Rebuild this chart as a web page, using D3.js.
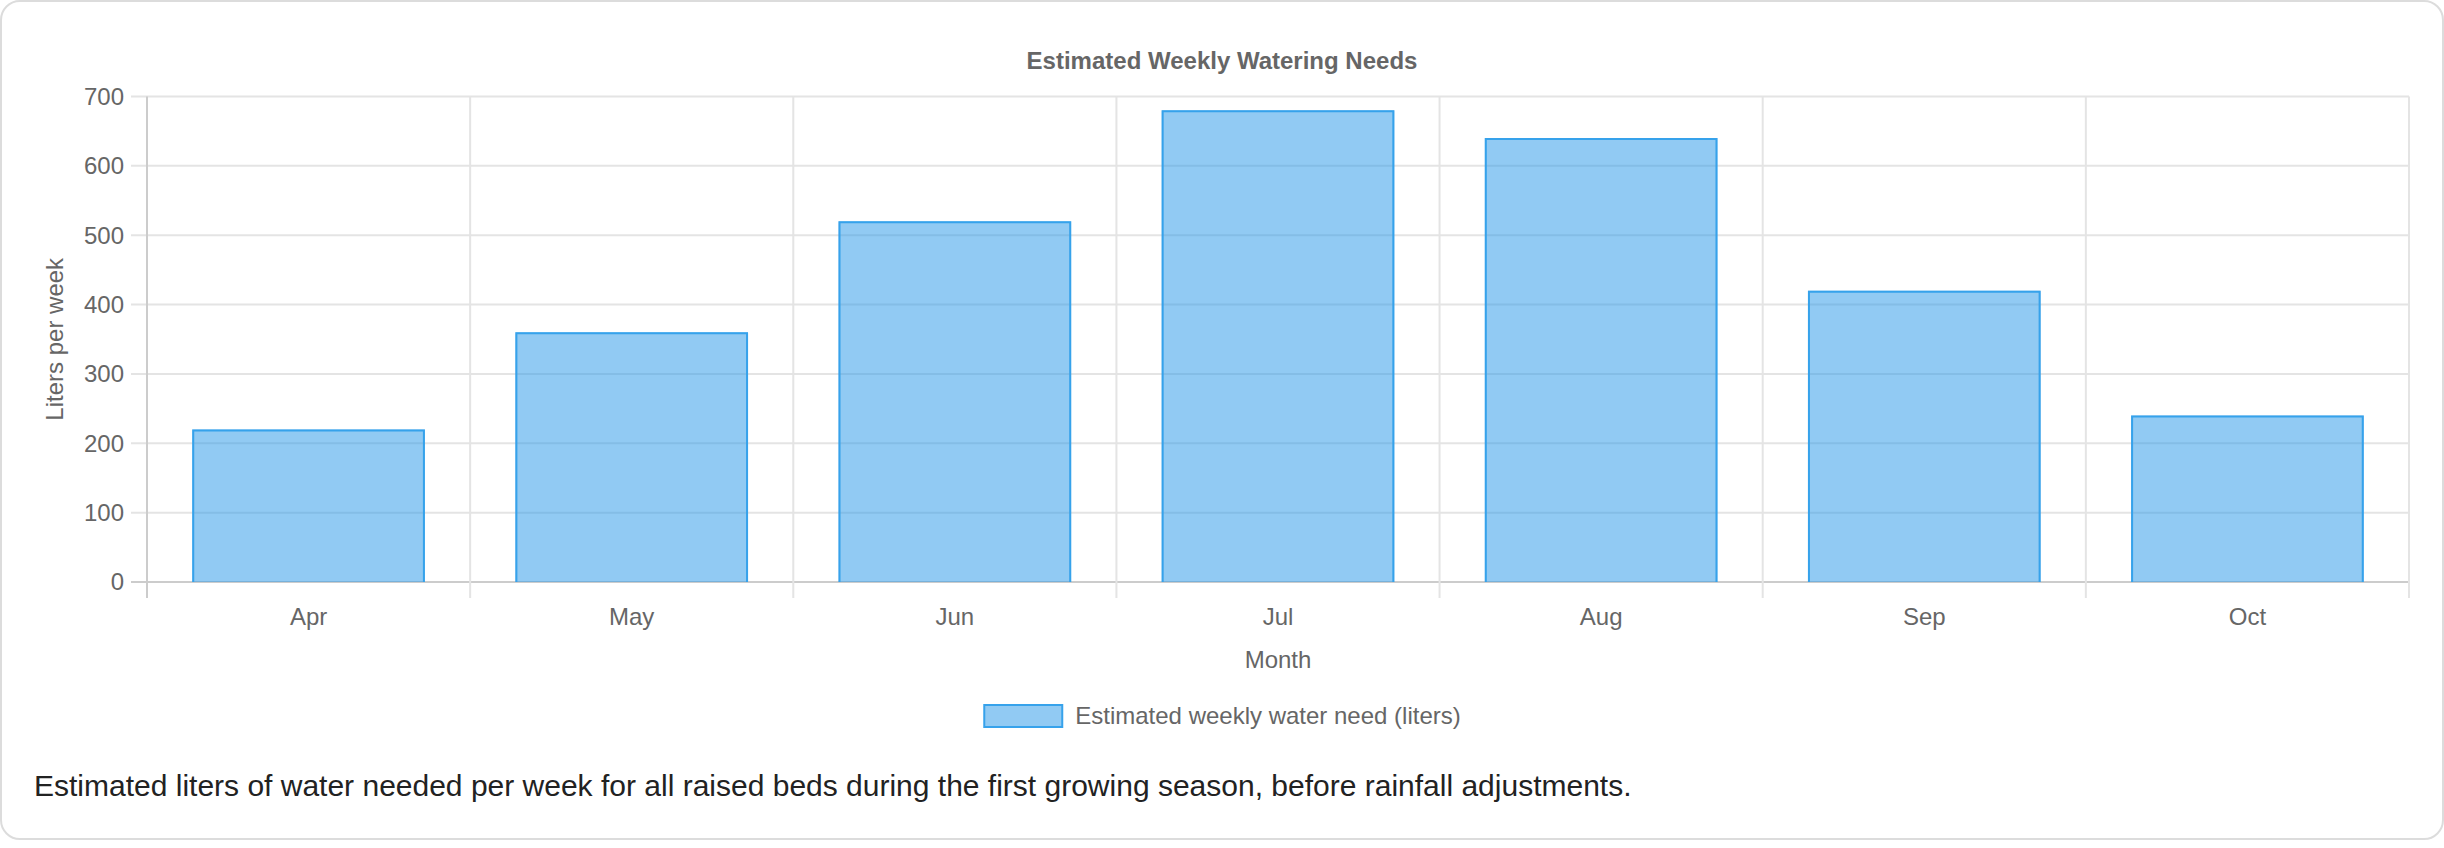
<!DOCTYPE html>
<html>
<head>
<meta charset="utf-8">
<script src="https://cdn.jsdelivr.net/npm/d3@7"></script>
<style>
  html, body { margin: 0; padding: 0; background: #fff; }
  body { width: 2444px; height: 848px; overflow: hidden; font-family: "Liberation Sans", Arial, Helvetica, sans-serif; }
  .card { position: absolute; left: 0; top: 0; width: 2440px; height: 836px; border: 2px solid #dcdcdc; border-radius: 20px; background: #fff; }
  .caption { position: absolute; left: 34px; top: 769px; font-size: 30px; color: #222; white-space: nowrap; }
  svg { position: absolute; left: 0; top: 0; }
</style>
</head>
<body>
<div class="card"></div>
<svg id="chart" width="2444" height="760"></svg>
<div class="caption">Estimated liters of water needed per week for all raised beds during the first growing season, before rainfall adjustments.</div>
<script>
const months = ["Apr", "May", "Jun", "Jul", "Aug", "Sep", "Oct"];
const waterLiters = [220, 360, 520, 680, 640, 420, 240];
const yTicks = [0, 100, 200, 300, 400, 500, 600, 700];
const chartTitle = "Estimated Weekly Watering Needs";
const seriesLabel = "Estimated weekly water need (liters)";
const xTitle = "Month";
const yTitle = "Liters per week";

const plotL = 147, plotR = 2409, plotT = 96.5, plotB = 582;
const canvasMid = 1222;
const svg = d3.select("#chart");
const font = '"Liberation Sans", Arial, Helvetica, sans-serif';

const x = d3.scaleBand().domain(months).range([plotL, plotR]).paddingInner(0).paddingOuter(0);
const y = d3.scaleLinear().domain([0, 700]).range([plotB, plotT]);

// horizontal grid
svg.append("g").selectAll("line").data(yTicks).join("line")
  .attr("x1", plotL - 16).attr("x2", plotR)
  .attr("y1", d => y(d)).attr("y2", d => y(d))
  .attr("stroke", d => d === 0 ? "#cccccc" : "#e4e4e4").attr("stroke-width", 2);
// vertical grid (category boundaries)
const bounds = months.map(m => x(m)).concat([plotR]);
svg.append("g").selectAll("line").data(bounds).join("line")
  .attr("x1", d => d).attr("x2", d => d)
  .attr("y1", plotT).attr("y2", plotB + 16)
  .attr("stroke", (d, i) => i === 0 ? "#cccccc" : "#e4e4e4").attr("stroke-width", 2);

// y tick labels
svg.append("g").selectAll("text").data(yTicks).join("text")
  .attr("x", plotL - 23).attr("y", d => y(d)).attr("dy", "0.35em")
  .attr("text-anchor", "end").attr("font-family", font).attr("font-size", 24).attr("fill", "#666")
  .text(d => d);

// x tick labels
svg.append("g").selectAll("text").data(months).join("text")
  .attr("x", d => x(d) + x.bandwidth() / 2).attr("y", 617).attr("dy", "0.35em")
  .attr("text-anchor", "middle").attr("font-family", font).attr("font-size", 24).attr("fill", "#666")
  .text(d => d);

// bars (border drawn inside the bar, no bottom border)
const barW = x.bandwidth() * 0.72;
const bw = 2;
const barG = svg.append("g");
waterLiters.forEach((v, i) => {
  const x0 = x(months[i]) + (x.bandwidth() - barW) / 2;
  const yt = y(v), yb = y(0);
  barG.append("rect").attr("x", x0).attr("y", yt).attr("width", barW).attr("height", yb - yt)
    .attr("fill", "rgba(35,150,232,0.5)");
  barG.append("path")
    .attr("d", `M${x0 + bw / 2},${yb} V${yt + bw / 2} H${x0 + barW - bw / 2} V${yb}`)
    .attr("fill", "none").attr("stroke", "#36a2eb").attr("stroke-width", bw);
});

// title
svg.append("text").attr("x", canvasMid).attr("y", 61).attr("dy", "0.35em")
  .attr("text-anchor", "middle").attr("font-family", font).attr("font-size", 24).attr("font-weight", "bold").attr("fill", "#666")
  .text(chartTitle);

// axis titles
svg.append("text").attr("x", (plotL + plotR) / 2).attr("y", 660).attr("dy", "0.35em")
  .attr("text-anchor", "middle").attr("font-family", font).attr("font-size", 24).attr("fill", "#666")
  .text(xTitle);
svg.append("text").attr("transform", `translate(55,${(plotT + plotB) / 2}) rotate(-90)`).attr("dy", "0.35em")
  .attr("text-anchor", "middle").attr("font-family", font).attr("font-size", 24).attr("fill", "#666")
  .text(yTitle);

// legend
const legendG = svg.append("g");
const lt = legendG.append("text").attr("font-family", font).attr("font-size", 24).attr("fill", "#666")
  .attr("dy", "0.35em").text(seriesLabel);
const tw = lt.node().getComputedTextLength();
const totalW = 80 + 12 + tw;
const lx = canvasMid - totalW / 2;
lt.attr("x", lx + 92).attr("y", 716);
legendG.append("rect").attr("x", lx + 1).attr("y", 705).attr("width", 78).attr("height", 22)
  .attr("fill", "rgba(35,150,232,0.5)").attr("stroke", "#36a2eb").attr("stroke-width", 2);
</script>
</body>
</html>
